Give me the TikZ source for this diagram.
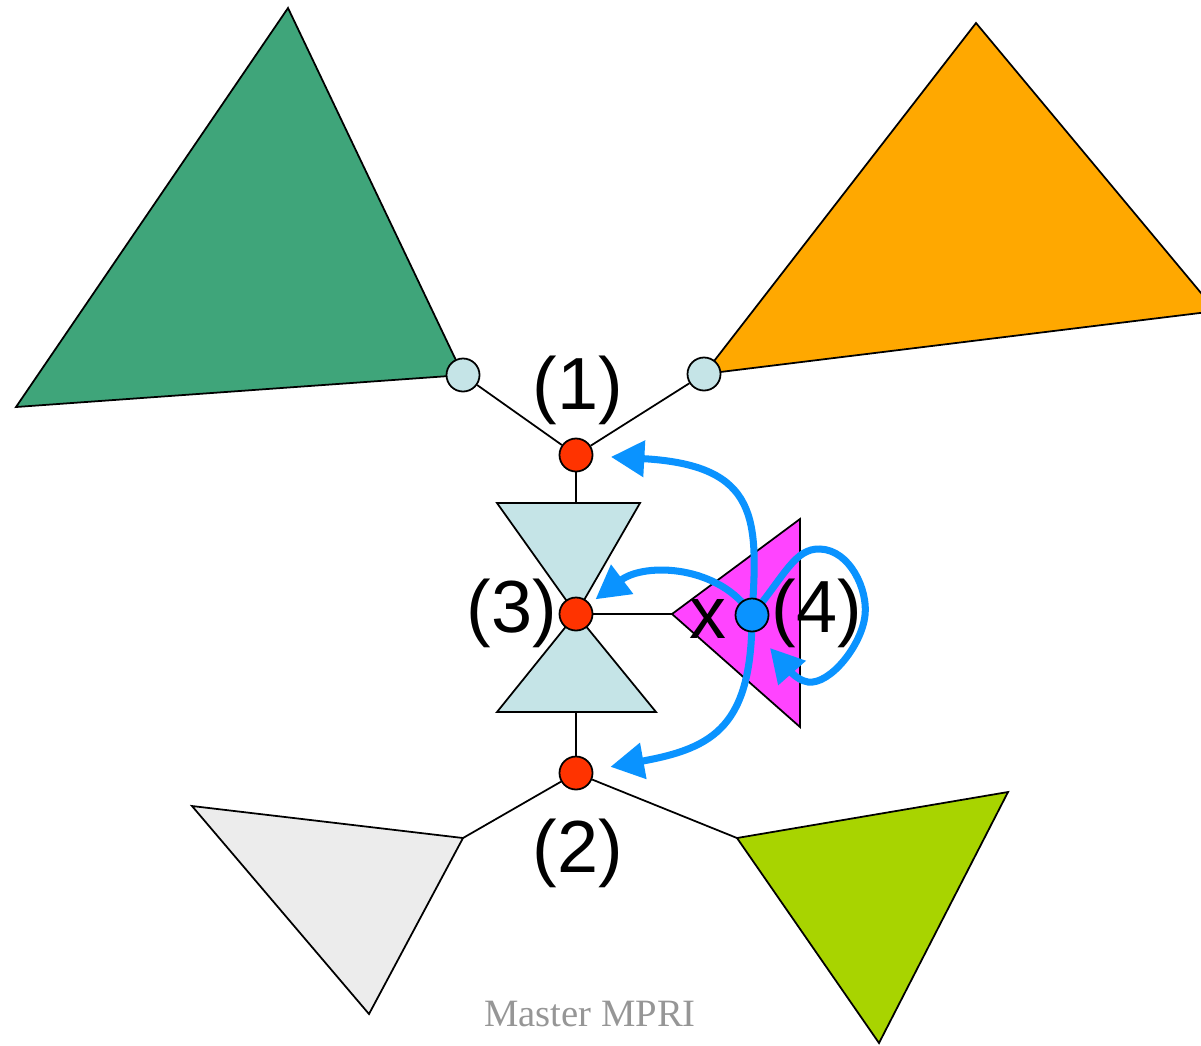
\documentclass[tikz,border=0pt]{standalone}
\usepackage{fontspec}
\setmainfont{Liberation Sans}
\newfontfamily\mprifont{Liberation Serif}
\usepackage{tikz}
\usetikzlibrary{arrows.meta}
\definecolor{treegreen}{RGB}{63,165,122}
\definecolor{treeorange}{RGB}{255,168,0}
\definecolor{treegray}{RGB}{236,236,236}
\definecolor{treelime}{RGB}{168,212,0}
\definecolor{treemagenta}{RGB}{255,68,255}
\definecolor{portblue}{RGB}{197,228,231}
\definecolor{nodered}{RGB}{255,51,0}
\definecolor{flowblue}{RGB}{10,147,255}
\definecolor{mprigray}{RGB}{150,150,150}

\begin{document}
\begin{tikzpicture}[
  x=0.01cm, y=-0.01cm,
  tri/.style={draw, line width=0.5pt, line join=miter},
  port/.style={circle, draw, line width=0.5pt, fill=portblue,
               minimum size=0.33cm, inner sep=0pt},
  hub/.style={port, fill=nodered},
  edge/.style={draw, line width=0.5pt},
  lbl/.style={inner sep=0pt, font=\fontsize{21}{25}\selectfont},
  flow/.style={-{Triangle[length=9.5pt, width=10pt]}, line width=2pt,
               flowblue},
]
\useasboundingbox (0,0) rectangle (1201,1045);

% Subtrees
\draw[tri, fill=treegreen] (288,8) -- (16,407) -- (463,375) -- cycle;
\draw[tri, fill=treeorange] (976,23) -- (1216,311) -- (704,374) -- cycle;
\draw[tri, fill=treegray] (192,806) -- (463,838) -- (369,1014) -- cycle;
\draw[tri, fill=treelime] (737,838) -- (1008,792) -- (879,1043) -- cycle;
\draw[tri, fill=treemagenta] (672,614) -- (800,519) -- (800,727) -- cycle;

% Hourglass
\draw[tri, fill=portblue] (497,503) -- (640,503) -- (576,614) -- cycle;
\draw[tri, fill=portblue] (576,614) -- (497,712) -- (656,712) -- cycle;

\coordinate (htop) at (576,503);
\coordinate (hbot) at (576,712);
\coordinate (gtip) at (463,838);
\coordinate (ltip) at (737,838);
\coordinate (mtip) at (672,614);

% Nodes
\node[port] (pl) at (463,375) {};
\node[port] (pr) at (704,374) {};
\node[hub] (n1) at (576,455) {};
\node[hub] (n3) at (576,614) {};
\node[hub] (n2) at (576,773) {};

\draw[edge] (pl) -- (n1);
\draw[edge] (pr) -- (n1);
\draw[edge] (n1) -- (htop);
\draw[edge] (hbot) -- (n2);
\draw[edge] (n2) -- (gtip);
\draw[edge] (n2) -- (ltip);
\draw[edge] (n3) -- (mtip);

% Moves of x
\draw[flow, shorten >=5pt] (752,615) .. controls (758,520) and (760,465) .. (n1);
\draw[flow, shorten >=2pt] (752,615) .. controls (720,565) and (645,562) .. (n3);
\draw[flow, shorten >=5pt] (752,615) .. controls (752,725) and (715,748) .. (n2);
\draw[flow] (752,615) .. controls (785,575) and (795,548) .. (820,549)
  .. controls (850,550) and (868,590) .. (865,615)
  .. controls (862,645) and (830,685) .. (808,682)
  .. controls (795,680) and (785,665) .. (770,648);

\node[port, fill=flowblue] (n4) at (752,615) {};

% Labels
\node[lbl] (lab1) at (578,390) {(1)};
\node[lbl] (lab2) at (578,853) {(2)};
\node[lbl] (lab3) at (512,613) {(3)};
\node[lbl] (lab4) at (817,613) {(4)};
\node[lbl, anchor=base] (labx) at (708,638) {x};

\node[anchor=base, text=mprigray, font=\mprifont\fontsize{11}{13}\selectfont]
  (mpri) at (590,1026) {Master MPRI};
\end{tikzpicture}
\end{document}
